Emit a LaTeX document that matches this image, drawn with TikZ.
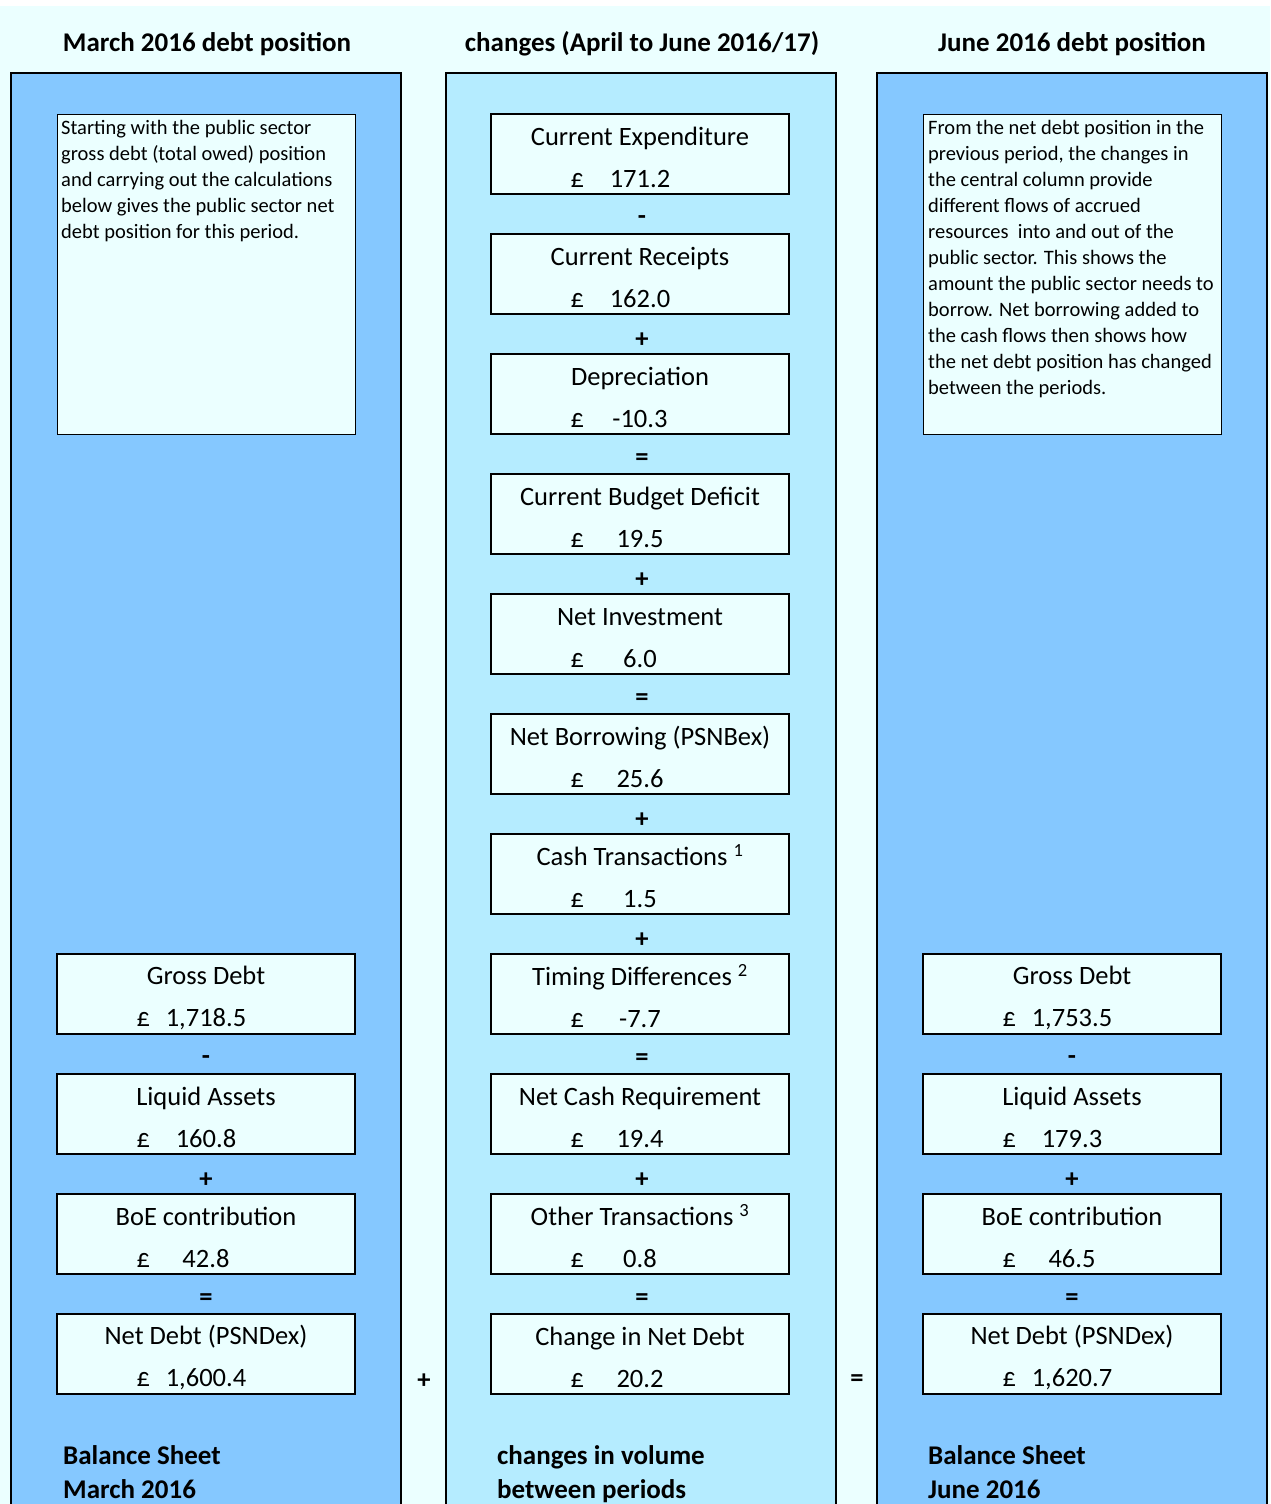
\documentclass[tikz,border=0pt]{standalone}
\usepackage{fontspec}
\setmainfont{Carlito}
\usepackage{tikz}

\definecolor{paleblue}{RGB}{235,255,255}
\definecolor{sideblue}{RGB}{133,200,255}
\definecolor{midblue}{RGB}{181,236,255}
\newcommand{\gbp}[1]{\makebox[0pt][r]{£\hspace{56pt}}\makebox[0pt]{#1}}
\newcommand{\boxtop}{\rule{0pt}{26pt}}

\begin{document}
\begin{tikzpicture}[x=1pt,y=-1pt,
  valbox/.style={draw,line width=1.5pt,fill=paleblue,minimum width=298pt,minimum height=80pt,align=center,inner sep=0pt,font=\fontsize{26.5}{31}\selectfont},
  notebox/.style={draw,line width=0.8pt,fill=paleblue,minimum width=298pt,minimum height=320pt},
  notetext/.style={anchor=north west,align=left,inner sep=0pt,font=\fontsize{20.5}{26}\selectfont},
  op/.style={yshift=-6pt,font=\fontsize{26.5}{31}\selectfont\bfseries},
  heading/.style={anchor=base,font=\fontsize{27}{32}\selectfont\bfseries},
  foot/.style={anchor=north west,align=left,inner sep=0pt,font=\fontsize{27}{34}\selectfont\bfseries},
  column/.style={draw,line width=1.8pt}]
				\useasboundingbox (0,0) rectangle (1270,1504);
				\fill[paleblue] (0,6) rectangle (1270,1504);
				\draw[column,fill=sideblue] (11,73) rectangle (401,1530);
				\draw[column,fill=midblue] (446,73) rectangle (836,1530);
				\draw[column,fill=sideblue] (877,73) rectangle (1267,1530);
				\node[heading] (HL) at (207,52) {March 2016 debt position};
				\node[heading] (HM) at (642,52) {changes (April to June 2016/17)};
				\node[heading] (HR) at (1072,52) {June 2016 debt position};
				% left column
				\node[notebox] (NL) at (206,274) {};
				\node[notetext] (NLt) at (61,120) {Starting with the public sector\\gross debt (total owed) position\\and carrying out the calculations\\below gives the public sector net\\debt position for this period.};
				\node[valbox] (L1) at (206,994) {\boxtop Gross Debt\\[11pt]\gbp{1,718.5}};
				\node[op] (oL1) at (206,1054) {-};
				\node[valbox] (L2) at (206,1114) {\boxtop Liquid Assets\\[11pt]\gbp{160.8}};
				\node[op] (oL2) at (206,1174) {+};
				\node[valbox] (L3) at (206,1234) {\boxtop BoE contribution\\[11pt]\gbp{42.8}};
				\node[op] (oL3) at (206,1294) {=};
				\node[valbox] (L4) at (206,1354) {\boxtop Net Debt (PSNDex)\\[11pt]\gbp{1,600.4}};
				\node[foot] (FL) at (63,1445) {Balance Sheet\\March 2016};
				% middle column
				\node[valbox] (M1) at (640,154) {\boxtop Current Expenditure\\[11pt]\gbp{171.2}};
				\node[op] (oM1) at (642,214) {-};
				\node[valbox] (M2) at (640,274) {\boxtop Current Receipts\\[11pt]\gbp{162.0}};
				\node[op] (oM2) at (642,334) {+};
				\node[valbox] (M3) at (640,394) {\boxtop Depreciation\\[11pt]\gbp{-10.3}};
				\node[op] (oM3) at (642,454) {=};
				\node[valbox] (M4) at (640,514) {\boxtop Current Budget Deficit\\[11pt]\gbp{19.5}};
				\node[op] (oM4) at (642,574) {+};
				\node[valbox] (M5) at (640,634) {\boxtop Net Investment\\[11pt]\gbp{6.0}};
				\node[op] (oM5) at (642,694) {=};
				\node[valbox] (M6) at (640,754) {\boxtop Net Borrowing (PSNBex)\\[11pt]\gbp{25.6}};
				\node[op] (oM6) at (642,814) {+};
				\node[valbox] (M7) at (640,874) {\boxtop Cash Transactions \textsuperscript{1}\\[11pt]\gbp{1.5}};
				\node[op] (oM7) at (642,934) {+};
				\node[valbox] (M8) at (640,994) {\boxtop Timing Differences \textsuperscript{2}\\[11pt]\gbp{-7.7}};
				\node[op] (oM8) at (642,1054) {=};
				\node[valbox] (M9) at (640,1114) {\boxtop Net Cash Requirement\\[11pt]\gbp{19.4}};
				\node[op] (oM9) at (642,1174) {+};
				\node[valbox] (M10) at (640,1234) {\boxtop Other Transactions \textsuperscript{3}\\[11pt]\gbp{0.8}};
				\node[op] (oM10) at (642,1294) {=};
				\node[valbox] (M11) at (640,1354) {\boxtop Change in Net Debt\\[11pt]\gbp{20.2}};
				\node[foot] (FM) at (497,1445) {changes in volume\\between periods};
				% right column
				\node[notebox] (NR) at (1072,274) {};
				\node[notetext] (NRt) at (928,120) {From the net debt position in the\\previous period, the changes in\\the central column provide\\different flows of accrued\\resources\ \ into and out of the\\public sector. This shows the\\amount the public sector needs to\\borrow. Net borrowing added to\\the cash flows then shows how\\the net debt position has changed\\between the periods.};
				\node[valbox] (R1) at (1072,994) {\boxtop Gross Debt\\[11pt]\gbp{1,753.5}};
				\node[op] (oR1) at (1072,1054) {-};
				\node[valbox] (R2) at (1072,1114) {\boxtop Liquid Assets\\[11pt]\gbp{179.3}};
				\node[op] (oR2) at (1072,1174) {+};
				\node[valbox] (R3) at (1072,1234) {\boxtop BoE contribution\\[11pt]\gbp{46.5}};
				\node[op] (oR3) at (1072,1294) {=};
				\node[valbox] (R4) at (1072,1354) {\boxtop Net Debt (PSNDex)\\[11pt]\gbp{1,620.7}};
				\node[foot] (FR) at (928,1445) {Balance Sheet\\June 2016};
				% between the columns
				\node[op] (plus) at (424,1375) {+};
				\node[op] (equals) at (857,1375) {=};
			\end{tikzpicture}
\end{document}
